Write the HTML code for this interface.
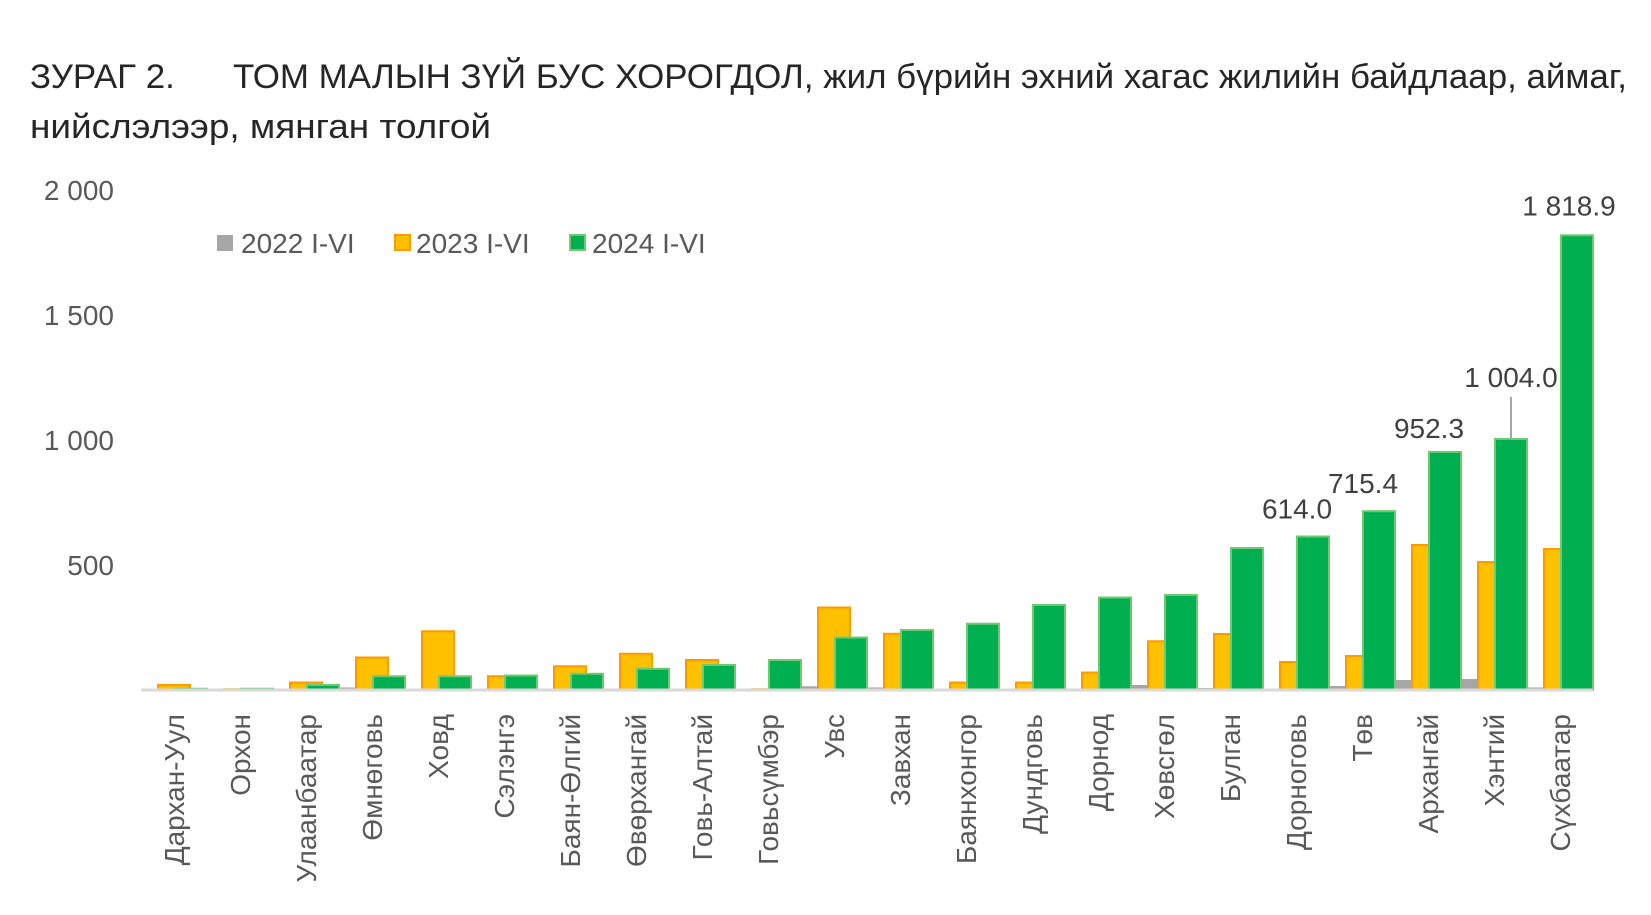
<!DOCTYPE html>
<html><head><meta charset="utf-8"><style>
html,body{margin:0;padding:0;background:#fff;}
svg{display:block;font-family:"Liberation Sans","Noto Sans CJK SC",sans-serif;}
</style></head><body>
<svg id="chart" width="1651" height="915" viewBox="0 0 1651 915" xmlns="http://www.w3.org/2000/svg">
<text x="30" y="88" font-size="34" fill="#262626" textLength="1597" lengthAdjust="spacingAndGlyphs">ЗУРАГ 2.&#160;&#160;&#160;&#160;&#160;&#160;ТОМ МАЛЫН ЗҮЙ БУС ХОРОГДОЛ, жил бүрийн эхний хагас жилийн байдлаар, аймаг,</text>
<text x="30" y="138" font-size="34" fill="#262626" textLength="461" lengthAdjust="spacingAndGlyphs">нийслэлээр, мянган толгой</text>
<g id="yaxis"></g>
<g id="bars"></g>
<line x1="141" y1="690" x2="1593" y2="690" stroke="#d9d9d9" stroke-width="3"/>
<g id="xlabels"></g>
<g id="dlabels"></g>
<g>
<rect x="217" y="235" width="16" height="16" fill="#a6a6a6"/>
<text x="241" y="253" font-size="28" fill="#595959">2022 I-VI</text>
<rect x="395" y="235" width="15" height="15" fill="#ffc000" stroke="#ff9900" stroke-width="2"/>
<text x="416" y="253" font-size="28" fill="#595959">2023 I-VI</text>
<rect x="570" y="235" width="15" height="15" fill="#00b050" stroke="#70c870" stroke-width="2"/>
<text x="592" y="253" font-size="28" fill="#595959">2024 I-VI</text>
</g>
</svg>
<script>
const categories = ["Дархан-Уул","Орхон","Улаанбаатар","Өмнөговь","Ховд","Сэлэнгэ","Баян-Өлгий","Өвөрхангай","Говь-Алтай","Говьсүмбэр","Увс","Завхан","Баянхонгор","Дундговь","Дорнод","Хөвсгөл","Булган","Дорноговь","Төв","Архангай","Хэнтий","Сүхбаатар"];
const values2022 = [2,2,5,10,5,3,5,5,5,2,15,10,5,5,5,20,8,5,16,40,44,10];
const values2023 = [20,3,30,130,235,55,95,145,120,3,330,225,30,30,70,195,224,112,136,580,512,564];
const values2024 = [5,5,20,55,55,58,65,85,100,120,210,240,265,340,370,380,568,614.0,715.4,952.3,1004.0,1818.9];
const yTicks = [500,1000,1500,2000];
const yTickLabels = ["500","1 000","1 500","2 000"];
const labelIdx = [17,18,19,20,21];
const labelText = ["614.0","715.4","952.3","1 004.0","1 818.9"];

const NS="http://www.w3.org/2000/svg";
const x0=141, band=66, y0=690, pxPerUnit=0.25, bw=32, off=17;
function yScale(v){return y0 - v*pxPerUnit;}
function xCenter(i){return x0 + band*i + band/2;}
function mk(tag,attrs,parent){const e=document.createElementNS(NS,tag);for(const k in attrs)e.setAttribute(k,attrs[k]);parent.appendChild(e);return e;}

const ya=document.getElementById('yaxis');
yTicks.forEach((t,i)=>{
  const e=mk('text',{x:114,y:yScale(t)+10,'font-size':28,fill:'#595959','text-anchor':'end'},ya);
  
  
  e.textContent=yTickLabels[i];
});

const bars=document.getElementById('bars');
const series=[[values2022,-off,'#a6a6a6','none','bar-2022'],[values2023,0,'#ffc000','#ff9900','bar-2023'],[values2024,off,'#00b050','#70c870','bar-2024']];
series.forEach(s=>{
  s[0].forEach((v,i)=>{
    const top=yScale(v);
    const r=mk('rect',{x:xCenter(i)+s[1]-bw/2,y:top,width:bw,height:Math.max(y0-top,0.5),fill:s[2],stroke:s[3],'stroke-width':2},bars);
    
    
  });
});

const xl=document.getElementById('xlabels');
categories.forEach((c,i)=>{
  const x=xCenter(i)+10;
  const t=mk('text',{x:x,y:714,'font-size':28,fill:'#595959','text-anchor':'end',transform:`rotate(-90 ${x} 714)`},xl);
  
  
  t.textContent=c;
});

const dl=document.getElementById('dlabels');
labelIdx.forEach((idx,k)=>{
  const cx=xCenter(idx)+off;
  const top=yScale(values2024[idx]);
  let ly=top-14, lx=cx;
  if(idx===20){ly=top-52; lx=cx;
    const ln=mk('line',{x1:cx,y1:top,x2:cx,y2:top-42,stroke:'#a6a6a6','stroke-width':2},dl);
    
    
  }
  if(idx===21){ly=top-20; lx=cx-8;}
  if(idx===19){lx=cx-16;}
  if(idx===18){lx=cx-16; ly=top-18;}
  if(idx===17){lx=cx-16; ly=top-18;}
  const t=mk('text',{x:lx,y:ly,'font-size':28,fill:'#404040','text-anchor':'middle'},dl);
  
  
  t.textContent=labelText[k];
});
</script>
</body></html>
